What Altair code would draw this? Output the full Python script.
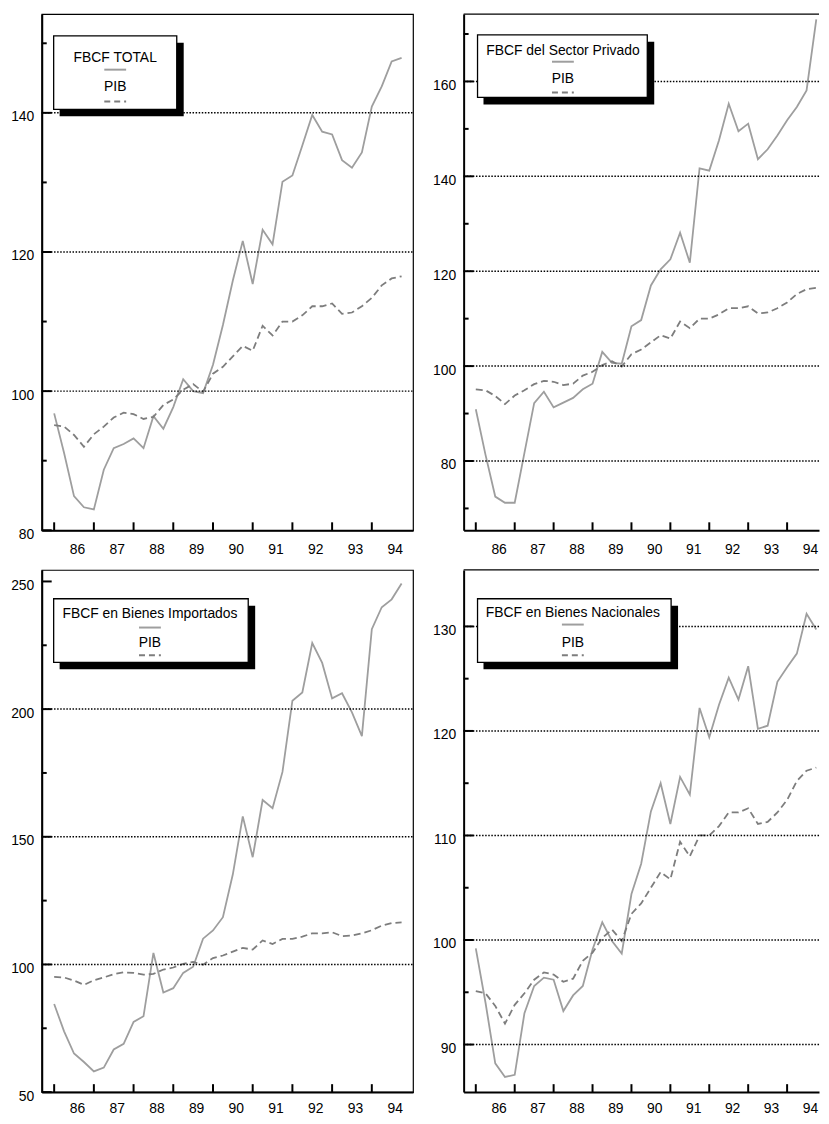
import altair as alt
import pandas as pd

# ---------------- data (quarterly, 1986Q1 .. 1994Q4) ----------------
years = ["86", "87", "88", "89", "90", "91", "92", "93", "94"]
quarters = list(range(36))

pib = [95.1, 94.9, 93.7, 92.0, 93.8, 94.9, 96.2, 96.9, 96.7, 96.0, 96.3, 98.0,
       98.8, 100.2, 101.0, 99.9, 102.5, 103.5, 105.0, 106.5, 105.8, 109.4, 108.0, 110.0,
       110.0, 110.9, 112.2, 112.2, 112.6, 111.1, 111.3, 112.2, 113.4, 115.2, 116.2, 116.5]

fbcf_total = [96.8, 91.1, 84.9, 83.3, 83.0, 88.7, 91.8, 92.4, 93.2, 91.8, 96.4, 94.6,
              97.7, 101.7, 100.0, 99.7, 103.8, 109.5, 115.9, 121.6, 115.4, 123.2, 121.1, 130.1,
              131.0, 135.3, 139.7, 137.3, 136.9, 133.2, 132.1, 134.3, 140.9, 143.8, 147.4, 147.9]

fbcf_privado = [90.9, 81.3, 72.5, 71.2, 71.2, 81.7, 92.2, 94.6, 91.3, 92.3, 93.3, 95.1,
                96.3, 103.0, 100.7, 100.5, 108.4, 109.7, 117.0, 120.4, 122.5, 128.1, 121.8, 141.7,
                141.2, 147.6, 155.3, 149.5, 151.1, 143.6, 145.7, 148.6, 151.8, 154.6, 158.1, 173.1]

fbcf_importados = [84.5, 73.8, 65.1, 61.8, 58.1, 59.6, 66.7, 68.9, 77.5, 79.7, 104.5, 89.0,
                   90.7, 96.7, 99.1, 110.1, 113.3, 118.5, 135.3, 158.0, 142.0, 164.4, 161.2, 175.4,
                   203.3, 206.5, 225.9, 218.1, 204.2, 206.2, 198.7, 189.4, 231.3, 239.9, 243.0, 249.2]

fbcf_nacionales = [99.2, 94.0, 88.2, 86.9, 87.1, 93.0, 95.6, 96.4, 96.2, 93.2, 94.7, 95.6,
                   99.1, 101.7, 99.9, 98.7, 104.4, 107.3, 112.3, 115.0, 111.1, 115.6, 113.9, 122.2,
                   119.4, 122.5, 125.1, 123.0, 126.2, 120.2, 120.5, 124.7, 126.1, 127.4, 131.2, 129.7]

series_names = ["FBCF TOTAL", "FBCF del Sector Privado",
                "FBCF en Bienes Importados", "FBCF en Bienes Nacionales"]
pib_name = "PIB"

FONT = "Liberation Sans"
SOLID = "#9e9e9e"
DASHED = "#7d7d7d"

year_ticks = [4 * k for k in range(len(years))]
label_expr = "[" + ",".join("'%s'" % y for y in years) + "][datum.value / 4]"


def panel(series, name, ydomain, label_vals, grid_vals, minor_vals,
          width, height, xdomain, box, cx, ty, right, xpad):
    df = pd.DataFrame({"q": quarters, "v": series, "pib": pib})
    xscale = alt.Scale(domain=xdomain, nice=False, zero=False)
    yscale = alt.Scale(domain=ydomain, nice=False, zero=False)

    xaxis = alt.Axis(values=year_ticks, labelExpr=label_expr, labelOffset=23,
                     labelPadding=xpad, ticks=False, tickSize=0, grid=False,
                     domainColor="black", domainWidth=2, labelFont=FONT,
                     labelFontSize=14, labelColor="black", labelFlush=False,
                     labelOverlap=False, minExtent=25, maxExtent=25, title=None)
    yaxis = alt.Axis(values=label_vals, format="d", labelOffset=4, labelPadding=8,
                     ticks=False, tickSize=0, grid=False, domainColor="black",
                     domainWidth=2, labelFont=FONT, labelFontSize=14,
                     labelColor="black", minExtent=33, maxExtent=33, title=None)

    def X(f):
        return alt.X(f, scale=xscale, axis=xaxis)

    def Y(f):
        return alt.Y(f, scale=yscale, axis=yaxis)

    line = alt.Chart(df).mark_line(color=SOLID, strokeWidth=1.8).encode(
        x=X("q:Q"), y=Y("v:Q"))

    pline = alt.Chart(df).mark_line(color=DASHED, strokeWidth=1.8,
                                    strokeDash=[7, 4]).encode(
        x=X("q:Q"), y=Y("pib:Q"))

    grid = alt.Chart(pd.DataFrame({"g": grid_vals})).mark_rule(
        color="black", strokeWidth=1.5, strokeDash=[1.5, 1.6]
    ).encode(y=Y("g:Q"), x=alt.value(0), x2=alt.value(width))

    xt = alt.Chart(pd.DataFrame({"t": year_ticks})).mark_rule(
        color="black", strokeWidth=2).encode(
        x=X("t:Q"), y=alt.value(height), y2=alt.value(height - 8))

    ymaj = alt.Chart(pd.DataFrame({"t": label_vals})).mark_rule(
        color="black", strokeWidth=2).encode(
        y=Y("t:Q"), x=alt.value(0), x2=alt.value(10))

    ymin = alt.Chart(pd.DataFrame({"t": minor_vals})).mark_rule(
        color="black", strokeWidth=2).encode(
        y=Y("t:Q"), x=alt.value(0), x2=alt.value(5))

    one = pd.DataFrame({"a": [0]})
    bx1, by1, bx2, by2 = box
    shadow = alt.Chart(one).mark_rect(color="black").encode(
        x=alt.value(bx1 + 6), x2=alt.value(bx2 + 7),
        y=alt.value(by1 + 7), y2=alt.value(by2 + 7))
    boxr = alt.Chart(one).mark_rect(fill="white", stroke="black",
                                    strokeWidth=1.3).encode(
        x=alt.value(bx1), x2=alt.value(bx2), y=alt.value(by1), y2=alt.value(by2))
    t1 = alt.Chart(one).mark_text(font=FONT, fontSize=14, color="black",
                                  align="center", baseline="middle").encode(
        x=alt.value(cx), y=alt.value(ty[0]), text=alt.value(name))
    s1 = alt.Chart(one).mark_rule(color=SOLID, strokeWidth=2).encode(
        x=alt.value(cx - 11), x2=alt.value(cx + 11), y=alt.value(ty[1]))
    t2 = alt.Chart(one).mark_text(font=FONT, fontSize=14, color="black",
                                  align="center", baseline="middle").encode(
        x=alt.value(cx), y=alt.value(ty[2]), text=alt.value(pib_name))
    s2 = alt.Chart(one).mark_rule(color=DASHED, strokeWidth=2,
                                  strokeDash=[6, 4]).encode(
        x=alt.value(cx - 11), x2=alt.value(cx + 11), y=alt.value(ty[3]))

    layers = [line, pline, grid, xt, ymaj, ymin, shadow, boxr, t1, s1, t2, s2]
    if right:
        top = alt.Chart(one).mark_rule(color="black", strokeWidth=1.2).encode(
            x=alt.value(0), x2=alt.value(width), y=alt.value(0))
        layers.append(top)
        view = alt.ViewBackground(stroke="transparent")
    else:
        view = alt.ViewBackground(stroke="black", strokeWidth=1.2)
    return alt.layer(*layers).properties(width=width, height=height, view=view)


H1 = 520
H2 = 526
WL = 374
WR = 358
XL = [-1.25, 36.15]
XR = [-1.25, 35.28]

p1 = panel(fbcf_total, series_names[0], [80, 154.2], [80, 100, 120, 140],
           [100, 120, 140], [90, 110, 130, 150], WL, H1, XL,
           (12, 22, 136, 96), 74, [44, 56, 74, 88], False, 12)
p2 = panel(fbcf_privado, series_names[1], [65.4, 174.2], [80, 100, 120, 140, 160],
           [80, 100, 120, 140, 160], [70, 90, 110, 130, 150, 170], WR, H1, XR,
           (14, 21, 185, 84), 100, [37, 48, 65, 79], True, 12)
p3 = panel(fbcf_importados, series_names[2], [50, 254.5], [50, 100, 150, 200, 250],
           [100, 150, 200], [75, 125, 175, 225], WL, H2, XL,
           (12, 29, 208, 93), 109, [44, 58, 74, 86], False, 10)
p4 = panel(fbcf_nacionales, series_names[3], [85.45, 135.4], [90, 100, 110, 120, 130],
           [90, 100, 110, 120, 130], [95, 105, 115, 125], WR, H2, XR,
           (14, 29, 209, 93), 110, [43, 55, 74, 86], True, 10)

chart = alt.vconcat(
    alt.hconcat(p1, p2, spacing=15),
    alt.hconcat(p3, p4, spacing=15),
    spacing=11,
).properties(padding=0, background="white")

chart.save("out.html", embed_options={"renderer": "svg", "actions": False})
